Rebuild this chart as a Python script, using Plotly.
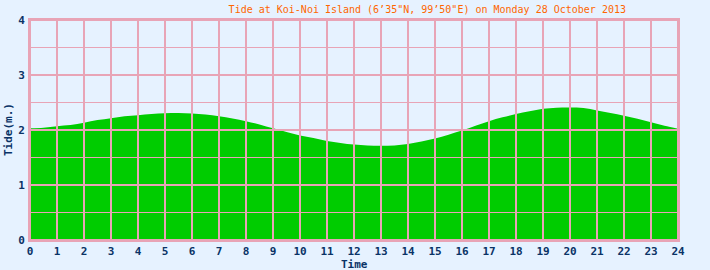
import numpy as np
import plotly.graph_objects as go

# Data (hours, tide in metres)
hours = [0.0, 0.5, 1.0, 1.5, 2.0, 2.5, 3.0, 3.5, 4.0, 4.5, 5.0, 5.5, 6.0, 6.5, 7.0, 7.5,
         8.0, 8.5, 9.0, 9.5, 10.0, 10.5, 11.0, 11.5, 12.0, 12.5, 13.0, 13.5, 14.0, 14.5,
         15.0, 15.5, 16.0, 16.5, 17.0, 17.5, 18.0, 18.5, 19.0, 19.5, 20.0, 20.5, 21.0,
         21.5, 22.0, 22.5, 23.0, 23.5, 24.0]
tide = [2.03, 2.04, 2.07, 2.09, 2.13, 2.18, 2.215, 2.25, 2.27, 2.29, 2.305, 2.31, 2.30,
        2.28, 2.25, 2.21, 2.16, 2.10, 2.03, 1.965, 1.90, 1.855, 1.80, 1.765, 1.735, 1.718,
        1.712, 1.72, 1.745, 1.79, 1.845, 1.915, 1.99, 2.075, 2.16, 2.23, 2.29, 2.34,
        2.385, 2.405, 2.41, 2.40, 2.355, 2.31, 2.26, 2.205, 2.14, 2.075, 2.025]
x_ticks = list(range(0, 25))
y_ticks = [0, 1, 2, 3, 4]
y_minor = [0.5, 1.5, 2.5, 3.5]

title_text = "Tide at Koi-Noi Island (6\u201935\"N, 99\u201950\"E) on Monday 28 October 2013"
x_title = "Time"
y_title = "Tide(m.)"

BG = "#E6F2FF"
GRID = "#E8A4B6"
GREEN = "#00CC00"
LABEL = "#0A3366"
MONO = "DejaVu Sans Mono"

fig = go.Figure()
fig.add_trace(go.Scatter(
    x=hours, y=tide, mode="lines", line=dict(width=0, shape="spline", color=GREEN),
    fill="tozeroy", fillcolor=GREEN, hoverinfo="skip", showlegend=False))

shapes = []
for xv in x_ticks:
    shapes.append(dict(type="line", xref="x", yref="paper", x0=xv, x1=xv, y0=0, y1=1,
                       line=dict(color=GRID, width=2), layer="above"))
for yv in y_ticks:
    shapes.append(dict(type="line", xref="paper", yref="y", x0=0, x1=1, y0=yv, y1=yv,
                       line=dict(color=GRID, width=2), layer="above"))
for yv in y_minor:
    shapes.append(dict(type="line", xref="paper", yref="y", x0=0, x1=1, y0=yv, y1=yv,
                       line=dict(color=GRID, width=1), layer="above"))

tick_font = dict(family=MONO, size=11, color=LABEL, weight="bold")
axis_title_font = dict(family=MONO, size=11, color=LABEL, weight="bold")

annotations = [
    dict(text=x_title, xref="paper", yref="paper", x=0.5, y=-24 / 220, xanchor="center",
         yanchor="middle", showarrow=False, font=axis_title_font),
    dict(text=y_title, xref="paper", yref="paper", x=-22 / 648, y=0.5, xanchor="center",
         yanchor="middle", showarrow=False, textangle=-90, font=axis_title_font),
]

fig.update_layout(
    width=710, height=270,
    margin=dict(l=30, r=32, t=20, b=30),
    paper_bgcolor=BG, plot_bgcolor=BG,
    shapes=shapes,
    annotations=annotations,
    title=dict(text=title_text, x=653 / 710, xanchor="right", xref="paper",
               y=1 - 9 / 270, yanchor="middle",
               font=dict(family=MONO, size=10, color="#FF6600")),
    font=dict(family=MONO, color=LABEL),
    xaxis=dict(range=[0, 24], tickvals=x_ticks, showgrid=False, zeroline=False,
               showline=True, linecolor=GRID, linewidth=2, mirror=True,
               ticks="", ticklabelstandoff=0, automargin=False,
               tickfont=tick_font),
    yaxis=dict(range=[0, 4], tickvals=y_ticks, showgrid=False, zeroline=False,
               showline=True, linecolor=GRID, linewidth=2, mirror=True,
               ticks="", ticklabelstandoff=1, automargin=False,
               tickfont=tick_font),
)

fig.write_html("out.html")
